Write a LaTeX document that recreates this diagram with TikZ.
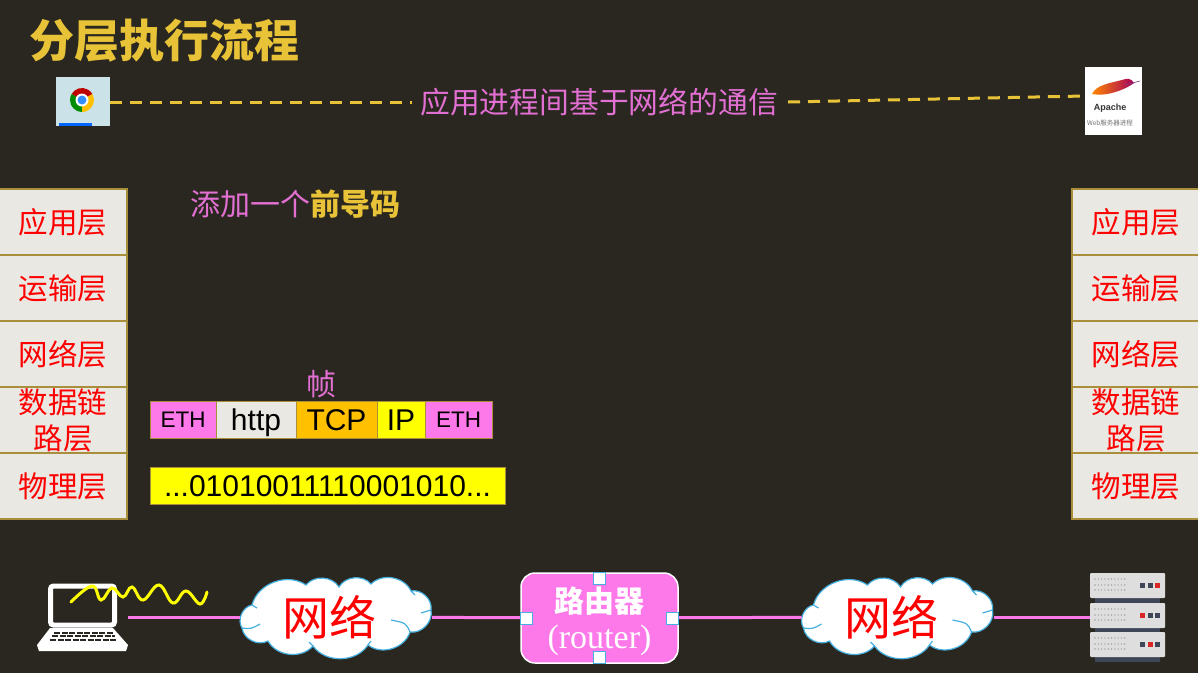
\documentclass[tikz,border=0pt]{standalone}
\usepackage{fontspec}
\setmainfont{Liberation Sans}
\newfontfamily\cjk{Noto Sans CJK SC}
\newfontfamily\serifrm{Liberation Serif}
\usetikzlibrary{positioning}

\definecolor{slidebg}{HTML}{2A2720}
\definecolor{goldtxt}{HTML}{E8C337}
\definecolor{pinktxt}{HTML}{E26FD2}
\definecolor{pinkfill}{HTML}{FD79E9}
\definecolor{boxline}{HTML}{A98F3C}
\definecolor{paperbox}{HTML}{E9E8E3}
\definecolor{cloudline}{HTML}{45B0E0}
\definecolor{rackgrey}{HTML}{DEDEDE}
\definecolor{rackdark}{HTML}{3F4658}
\definecolor{bityellow}{HTML}{FFFF00}
\definecolor{tcporange}{HTML}{FFC000}

% one network cloud: outline drawn round the point, named node on top
\newcommand{\netcloud}[2]{
        \begin{scope}[shift={(#2,617)}]
            \draw[draw=cloudline, fill=white, line width=1.2pt] (-84,-12) to[bend left=55] (-30,-32) to[bend left=55] (3,-30) to[bend left=55] (35,-33) to[bend left=55] (75,-26) to[bend left=55] (95,-7) to[bend left=55] (74,15) to[bend left=55] (32,28) to[bend left=55] (-23,29) to[bend left=55] (-68,24) to[bend left=55] (-94,11) to[bend left=55] cycle;
            \draw[draw=cloudline, line width=1.2pt] (-84,-12) -- (-79,-9);
            \draw[draw=cloudline, line width=1.2pt] (75,-26) -- (79,-22);
            \draw[draw=cloudline, line width=1.2pt] (95,-7) .. controls (90,-6) .. (85,-4);
            \draw[draw=cloudline, line width=1.2pt] (74,15) .. controls (70,6) .. (55,3);
            \draw[draw=cloudline, line width=1.2pt] (-94,11) .. controls (-85,12) .. (-76,7);
            \draw[draw=cloudline, line width=1.2pt] (32,28) -- (35,24);
            \draw[draw=cloudline, line width=1.2pt] (-23,29) -- (-27,25);
        \end{scope}
        \node[netlabel] (#1) at (#2,617) {\hspace{-13pt}网络};
}

\begin{document}
\begin{tikzpicture}[x=1pt, y=-1pt]
        % Define node styles
        \tikzstyle{layerbox} = [draw=boxline, fill=paperbox, line width=1.1pt, outer sep=0pt, minimum width=128pt, minimum height=66pt, inner sep=0pt, align=center, text=red, font=\cjk\fontsize{29.5}{36}\selectfont]
        \tikzstyle{framebox} = [draw=boxline, line width=0.9pt, outer sep=0pt, minimum height=37pt, inner sep=0pt, text=black, text height=21pt, text depth=0pt, font=\fontsize{30}{30}\selectfont]
        \tikzstyle{smallbox} = [framebox, text height=16pt, font=\fontsize{22.5}{23}\selectfont]
        \tikzstyle{netlabel} = [text=red, minimum width=192pt, minimum height=78pt, inner sep=0pt, outer sep=0pt, font=\cjk\fontsize{47}{47}\selectfont]
        \tikzstyle{handlebox} = [draw=cloudline, fill=white, line width=1pt, minimum size=12pt, inner sep=0pt]
        \tikzstyle{pinkwire} = [draw=pinkfill, line width=3pt]
        \tikzstyle{talkline} = [draw=goldtxt, line width=3pt, dash pattern=on 12pt off 8pt]

        % Background and margins
        \fill[slidebg] (0,0) rectangle (1198,673);
        \useasboundingbox (0,0) rectangle (1198,673);

        % Title
        \node[text=goldtxt, inner sep=0pt, font=\cjk\bfseries\fontsize{45}{45}\selectfont] (title) at (164,41) {分层执行流程};

        % Browser icon
        \node[fill=cyan!15!paperbox, minimum width=54pt, minimum height=49pt, inner sep=0pt] (chrome) at (83,101.5) {};
        \fill[blue!60!cyan] (59,123) rectangle (92,126);
        \fill[red!75!black] (82,100) -- ++(-150:12) arc (-150:-30:12) -- cycle;
        \fill[green!55!black] (82,100) -- ++(90:12) arc (90:210:12) -- cycle;
        \fill[tcporange] (82,100) -- ++(-30:12) arc (-30:90:12) -- cycle;
        \fill[white] (82,100) circle (6.5);
        \fill[blue!55!cyan!80!white] (82,100) circle (4.5);

        % Apache icon
        \node[fill=white, minimum width=57pt, minimum height=68pt, inner sep=0pt] (apache) at (1113.5,101) {};
        \shade[left color=tcporange!70!red, right color=violet!70!red] (1092,94) .. controls (1096,85) and (1110,83) .. (1122,80) .. controls (1127,78) and (1131,78) .. (1134,83) .. controls (1125,90) and (1105,97) .. (1092,94) -- cycle;
        \draw[violet!50!gray, line width=0.6pt] (1125,85) -- (1140,81);
        \node[text=black!80, inner sep=0pt, font=\bfseries\fontsize{9}{9}\selectfont] (apachename) at (1110,108) {Apache};
        \node[text=black!55, inner sep=0pt, font=\cjk\fontsize{6.5}{7}\selectfont] (apachesub) at (1110,123) {Web服务器进程};

        % Dialogue between the two processes
        \node[text=pinktxt, inner sep=0pt, font=\cjk\fontsize{29.8}{30}\selectfont] (talk) at (599,102) {应用进程间基于网络的通信};
        \draw[talkline] (chrome.east |- talk) -- ([xshift=-8pt]talk.west);
        \draw[talkline] ([xshift=10pt]talk.east) -- ([yshift=5pt]apache.west);

        % Layers on both sides
        \foreach \side/\xpos in {l/63, r/1136} {
            \node[layerbox] (app\side) at (\xpos,222) {应用层};
            \node[layerbox, below=0pt of app\side] (trans\side) {运输层};
            \node[layerbox, below=0pt of trans\side] (net\side) {网络层};
            \node[layerbox, below=0pt of net\side] (link\side) {数据链\\路层};
            \node[layerbox, below=0pt of link\side] (phys\side) {物理层};
        }

        % Preamble note
        \node[inner sep=0pt, font=\cjk\fontsize{30}{30}\selectfont] (note) at (295,204) {\textcolor{pinktxt}{添加一个}\textcolor{goldtxt}{\bfseries 前导码}};

        % The frame
        \node[smallbox, fill=pinkfill, minimum width=66pt] (ethl) at (183,419.5) {ETH};
        \node[framebox, fill=paperbox, minimum width=80pt, right=0pt of ethl] (http) {http};
        \node[framebox, fill=tcporange, minimum width=81pt, right=0pt of http] (tcp) {TCP};
        \node[framebox, fill=bityellow, minimum width=48pt, right=0pt of tcp] (ip) {IP};
        \node[smallbox, fill=pinkfill, minimum width=67pt, right=0pt of ip] (ethr) {ETH};
        \node[text=pinktxt, inner sep=0pt, font=\cjk\fontsize{30}{30}\selectfont] (frame) at (321,384) {帧};
        \node[framebox, fill=bityellow, minimum width=355pt] (bits) at (327.5,485.5) {...01010011110001010...};

        % Laptop
        \draw[white, line width=5pt, rounded corners=3pt] (50.5,586) rectangle (114.5,625);
        \fill[white] (50,628) -- (113,628) -- (128,645) -- (126,651) -- (39,651) -- (37,645) -- cycle;
        \foreach \row/\xa/\xb in {632.5/54/113, 636/52/115, 639.5/50/117} {
            \draw[slidebg, line width=2pt, dash pattern=on 6pt off 1.5pt] (\xa,\row) -- (\xb,\row);
        }
        \coordinate (laptop) at (128,617);
        \draw[bityellow, line width=3pt, line cap=round] plot[smooth, tension=0.7] coordinates {(71,602) (92,586) (101,600) (112,588) (123,597) (132,587) (143,600) (159,585) (173,603) (186,591) (200,604) (207,592)};

        % Server rack
        \fill[rackdark] (1095,580) rectangle (1160,662);
        \foreach \ypos/\lampa/\lampb/\lampc in {573/rackdark/rackdark/red!70!gray, 603/red!70!gray/rackdark/rackdark, 632/rackdark/red!70!gray/rackdark} {
            \fill[rackgrey, rounded corners=1pt] (1090,\ypos) rectangle (1165,\ypos+25);
            \foreach \lx in {1095,1098.3,...,1125} {
                \foreach \ly in {6,12,17} {
                    \fill[gray!70] (\lx,\ypos+\ly) circle (0.8);
                }
            }
            \fill[\lampa] (1140,\ypos+9.5) rectangle (1145,\ypos+14.5);
            \fill[\lampb] (1148,\ypos+9.5) rectangle (1153,\ypos+14.5);
            \fill[\lampc] (1155,\ypos+9.5) rectangle (1160,\ypos+14.5);
        }
        \coordinate (rack) at (1090,617);

        % Network clouds and the router
        \netcloud{cloudl}{336}
        \netcloud{cloudr}{897.5}
        \node[draw=white, fill=pinkfill, line width=1.5pt, rounded corners=14pt, minimum width=157pt, minimum height=90pt, inner sep=0pt, align=center, text=white, font=\fontsize{30}{36}\selectfont] (router) at (599.5,618) {\rule{0pt}{32pt}{\cjk\bfseries 路由器}\\{\serifrm\fontsize{34}{36}\selectfont (router)}};

        \draw[pinkwire] (laptop) -- (cloudl);
        \draw[pinkwire] (cloudl) -- (router);
        \draw[pinkwire] (router) -- (cloudr);
        \draw[pinkwire] (cloudr) -- (rack);

        % Handles on the router
        \node[handlebox] (handlet) at ([yshift=-6pt]router.north) {};
        \node[handlebox] (handleb) at ([yshift=6pt]router.south) {};
        \node[handlebox] (handlel) at ([xshift=6pt]router.west) {};
        \node[handlebox] (handler) at ([xshift=-6pt]router.east) {};
    \end{tikzpicture}
\end{document}
